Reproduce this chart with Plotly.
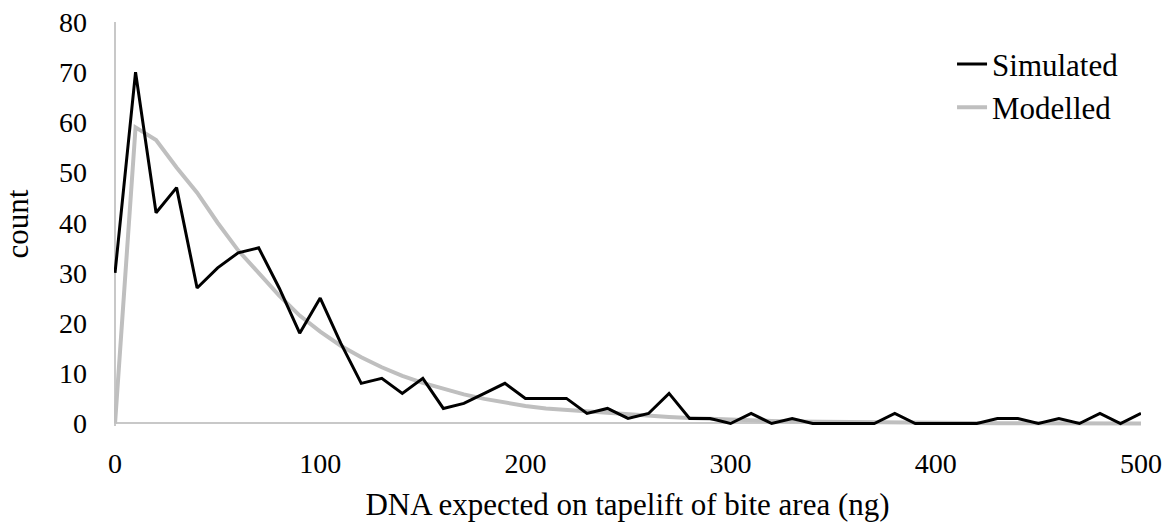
import plotly.graph_objects as go

x_values = list(range(0, 501, 10))

simulated = [30, 70, 42, 47, 27, 31, 34, 35, 27, 18,
             25, 16, 8, 9, 6, 9, 3, 4, 6, 8,
             5, 5, 5, 2, 3, 1, 2, 6, 1, 1,
             0, 2, 0, 1, 0, 0, 0, 0, 2, 0,
             0, 0, 0, 1, 1, 0, 1, 0, 2, 0,
             2]

modelled = [0, 59, 56.5, 51, 46, 40, 34.5, 30, 25.5, 21.5,
            18.3, 15.5, 13.2, 11.2, 9.5, 8.1, 6.9, 5.8, 4.9, 4.1,
            3.5, 3.0, 2.7, 2.4, 2.1, 1.8, 1.5, 1.3, 1.1, 0.9,
            0.75, 0.6, 0.5, 0.4, 0.35, 0.3, 0.25, 0.2, 0.17, 0.14,
            0.12, 0.1, 0.08, 0.07, 0.06, 0.05, 0.04, 0.035, 0.03, 0.025,
            0.02]

x_ticks = [0, 100, 200, 300, 400, 500]
y_ticks = [0, 10, 20, 30, 40, 50, 60, 70, 80]

FONT = "Liberation Serif, Times New Roman, serif"
AXIS_GREY = "#c8c8c8"

fig = go.Figure()
fig.add_trace(go.Scatter(x=x_values, y=modelled, mode="lines", name="Modelled",
                         line=dict(color="#bfbfbf", width=4), legendgroup="b",
                         legendrank=2))
fig.add_trace(go.Scatter(x=x_values, y=simulated, mode="lines", name="Simulated",
                         line=dict(color="#000000", width=3), legendgroup="a",
                         legendrank=1))

fig.update_layout(
    width=1172, height=522,
    margin=dict(l=114, r=31, t=22, b=96, autoexpand=False),
    paper_bgcolor="white", plot_bgcolor="white",
    font=dict(family=FONT, size=28, color="#000000"),
    legend=dict(x=0.816, y=0.962, xanchor="left", yanchor="top",
                font=dict(size=31), bgcolor="rgba(0,0,0,0)",
                tracegroupgap=4, traceorder="normal"),
    xaxis=dict(range=[-0.5, 500], tickvals=x_ticks, showgrid=False,
               showline=False, zeroline=True, zerolinecolor=AXIS_GREY,
               zerolinewidth=1.5, ticks="", ticklabelstandoff=18,
               tickfont=dict(size=28), automargin=False,
               ticklabeloverflow="allow",
               title=dict(text="DNA expected on tapelift of bite area (ng)",
                          font=dict(size=31), standoff=23)),
    yaxis=dict(range=[-0.5, 80], tickvals=y_ticks, showgrid=False,
               showline=False, zeroline=True, zerolinecolor=AXIS_GREY,
               zerolinewidth=1.5, ticks="", ticklabelstandoff=26,
               tickfont=dict(size=28), automargin=False,
               ticklabeloverflow="allow",
               title=dict(text="count", font=dict(size=31), standoff=23)),
)

fig.write_html("out.html",
               config={"displayModeBar": False},
               post_script="document.body.style.margin='0';document.body.style.overflow='hidden';")
